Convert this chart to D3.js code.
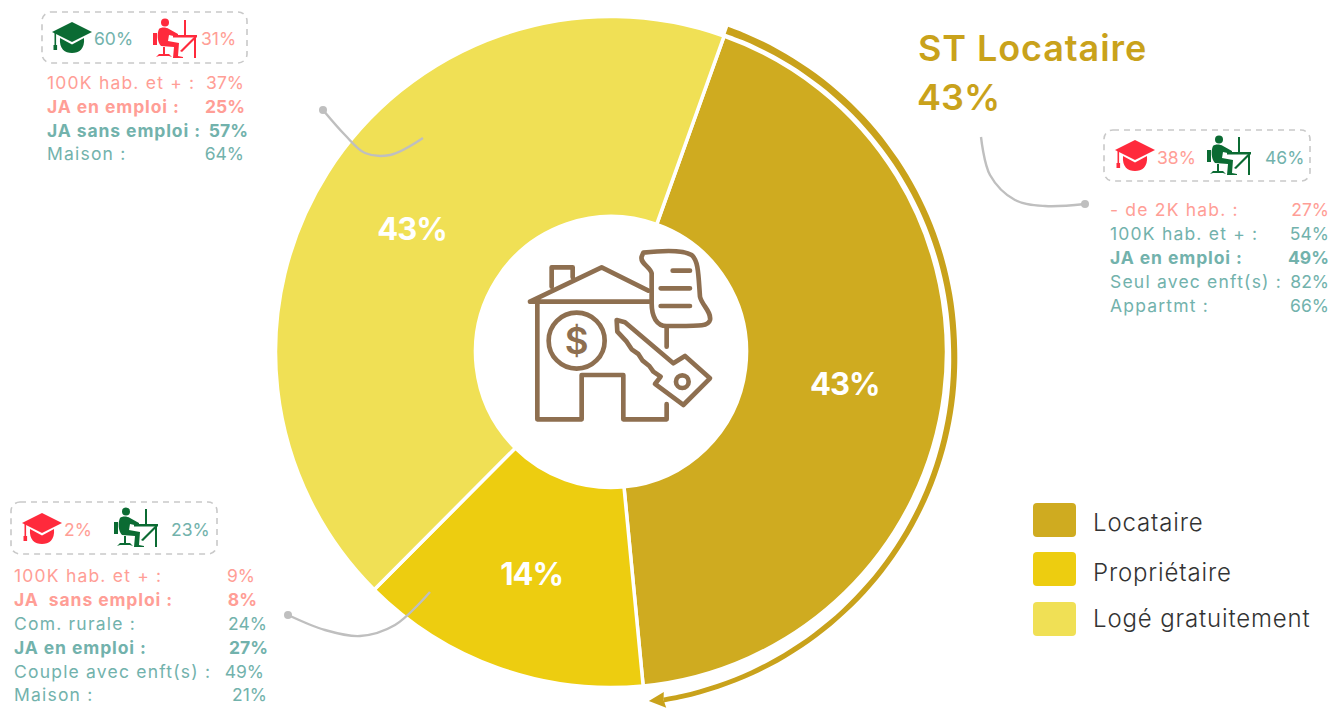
<!DOCTYPE html>
<html>
<head>
<meta charset="utf-8">
<script src="https://d3js.org/d3.v7.min.js"></script>
<style>
  html, body { margin: 0; background: #fff; }
  text { font-family: Inter, "Open Sans", sans-serif; }
</style>
</head>
<body>
<svg id="chart" width="1334" height="709"></svg>
<script>
// donut data
var categories = ["Locataire", "Propriétaire", "Logé gratuitement"];
var shares = [43, 14, 43];
var colors = ["#CFAB20", "#EDCD10", "#F0E055"];

// side notes, one set of arrays per slice
var locLabels = ["- de 2K hab. :", "100K hab. et + :", "JA en emploi :", "Seul avec enft(s) :", "Appartmt :"];
var locValues = [27, 54, 49, 82, 66];
var locTone = ["pink", "teal", "teal", "teal", "teal"];
var locBold = [0, 0, 1, 0, 0];
var locBadge = [38, 46];

var logLabels = ["100K hab. et + :", "JA en emploi :", "JA sans emploi :", "Maison :"];
var logValues = [37, 25, 57, 64];
var logTone = ["pink", "pink", "teal", "teal"];
var logBold = [0, 1, 1, 0];
var logBadge = [60, 31];

var propLabels = ["100K hab. et + :", "JA  sans emploi :", "Com. rurale :", "JA en emploi :", "Couple avec enft(s) :", "Maison :"];
var propValues = [9, 8, 24, 27, 49, 21];
var propTone = ["pink", "pink", "teal", "teal", "teal", "teal"];
var propBold = [0, 1, 0, 1, 0, 0];
var propBadge = [2, 23];

var TONES = { pink: "#FF9E96", teal: "#72B2AC" };
var RED = "#FF2A3C", GREEN = "#0B6B33", GOLD = "#C9A21B", GREY = "#BFBFBF";

var cx = 611, cy = 352, R = 335.5, HOLE = 135.5;
var START = 19.7 * Math.PI / 180;

var svg = d3.select("#chart");

var pie = d3.pie().sort(null).startAngle(START).endAngle(START + 2 * Math.PI);
var arc = d3.arc().innerRadius(HOLE).outerRadius(R);
var slices = pie(shares);

var donut = svg.append("g").attr("transform", "translate(" + cx + "," + cy + ")");

donut.selectAll("path").data(slices).enter().append("path")
  .attr("d", arc)
  .attr("fill", function(d, i){ return colors[i] })
  .attr("stroke", "#fff")
  .attr("stroke-width", 3.5);

// the 14% sits a little above its centroid
var sliceLabelShift = [0, -3, 0];
donut.selectAll("text").data(slices).enter().append("text")
  .attr("transform", function(d, i){
    var c = arc.centroid(d);
    return "translate(" + c[0] + "," + (c[1] + sliceLabelShift[i]) + ")";
  })
  .attr("text-anchor", "middle")
  .attr("dy", "0.45em")
  .attr("fill", "#fff")
  .attr("font-size", 31)
  .attr("font-weight", 700)
  .attr("letter-spacing", -1)
  .text(function(d){ return d.data + "%" });

// arrow around the first slice: it drifts away from the donut toward the bottom
var arrowAngle = d3.scaleLinear().domain([0, 1]).range([slices[0].startAngle + 0.002, slices[0].endAngle - 0.054]);
var arrowRadius = d3.scaleLinear().domain([0, 0.45, 1]).range([342, 343, 352]);
var arrowWidth = d3.scaleLinear().domain([0, 1]).range([3.6, 2.4]);

var band = d3.areaRadial()
  .angle(function(t){ return arrowAngle(t) })
  .innerRadius(function(t){ return arrowRadius(t) - arrowWidth(t) })
  .outerRadius(function(t){ return arrowRadius(t) + arrowWidth(t) })
  .curve(d3.curveCatmullRom);

donut.append("path")
  .attr("d", band(d3.range(0, 1.0001, 0.02)))
  .attr("fill", GOLD);

function polar(angle, radius){
  return [radius * Math.sin(angle), -radius * Math.cos(angle)];
}
var headEnd = arrowAngle(1);
donut.append("polygon")
  .attr("fill", GOLD)
  .attr("points", [
    polar(headEnd + 0.042, 351),
    polar(headEnd - 0.004, 360),
    polar(headEnd, 352),
    polar(headEnd - 0.004, 344)
  ].join(" "));

// house icon, drawn in a 3x box
var house = svg.append("g")
  .attr("transform", "translate(510,230) scale(0.3333)")
  .attr("fill", "none")
  .attr("stroke", "#8E6F50")
  .attr("stroke-width", 14)
  .attr("stroke-linejoin", "round")
  .attr("stroke-linecap", "round");

house.append("path").attr("d", "M60,215 L275,112 L415,182 M60,215 L418,215 M125,170 L125,112 L188,112 L188,142");
house.append("path").attr("d", "M82,220 L82,568 L215,568 L215,435 L340,435 L340,568 L470,568 L470,522 M470,292 L470,350");
house.append("circle").attr("cx", 200).attr("cy", 332).attr("r", 84);
house.append("path").attr("d", "M400,68 C470,60 520,60 545,75 C565,92 565,130 570,200 C575,225 605,245 600,270 C595,290 570,288 470,288 C440,288 425,260 425,220 L425,130 C420,110 390,100 395,80 Z");
house.append("path").attr("d", "M488,122 L540,122 M452,175 L540,175 M452,228 L540,228");
house.append("path").attr("d", "M320,270 L345,277 L490,400 L525,378 L600,445 L520,525 L435,462 L452,440 L430,425 L418,408 L398,392 L385,372 L365,358 L350,335 L322,305 Z");
house.append("circle").attr("cx", 517).attr("cy", 455).attr("r", 19);
house.append("text")
  .attr("x", 200).attr("y", 332)
  .attr("dy", "0.36em")
  .attr("text-anchor", "middle")
  .attr("fill", "#8E6F50").attr("stroke", "none")
  .attr("font-size", 110).attr("font-weight", 600)
  .text("$");

// title
var title = svg.append("g").attr("fill", GOLD).attr("font-weight", 600);
title.append("text").attr("x", 918).attr("y", 61).attr("font-size", 36).attr("letter-spacing", 0.9).text("ST Locataire");
title.append("text").attr("x", 917).attr("y", 110).attr("font-size", 36).text(shares[0] + "%");

// legend
var legendRow = d3.scaleOrdinal().domain(categories).range([503, 552, 602]);
var legendTextY = [19, 20, 16];
var legend = svg.selectAll(".legend").data(categories).enter().append("g")
  .attr("class", "legend")
  .attr("transform", function(d){ return "translate(1033," + legendRow(d) + ")" });

legend.append("rect")
  .attr("width", 43).attr("height", 34).attr("rx", 4)
  .attr("fill", function(d, i){ return colors[i] });

legend.append("text")
  .attr("x", 60).attr("y", function(d, i){ return legendTextY[i] })
  .attr("dy", "0.36em")
  .attr("font-size", 24)
  .attr("font-weight", 300)
  .attr("letter-spacing", 0.85)
  .attr("fill", "#333")
  .text(function(d){ return d });

function capIcon(g, x, y, color){
  var c = g.append("g").attr("transform", "translate(" + x + "," + y + ")").attr("fill", color);
  c.append("path").attr("d", "M20,0 L40,10 L20,20 L0,10 Z");
  c.append("path").attr("d", "M8,16 L20,22.5 L32,16 C33,27 27,31 20,31 C13,31 7,27 8,16 Z");
  c.append("rect").attr("x", 2.5).attr("y", 10).attr("width", 1.6).attr("height", 14);
  c.append("rect").attr("x", 1.5).attr("y", 23).attr("width", 3.6).attr("height", 5);
}

function deskIcon(g, x, y, color){
  var c = g.append("g").attr("transform", "translate(" + x + "," + y + ")").attr("fill", color);
  c.append("circle").attr("cx", 14).attr("cy", 4.5).attr("r", 4);
  c.append("path").attr("d", "M8,11 C10,9 15,9 18,11 L27,16 L27,19 L18,17 L17,23 L28,25 L27,38 L32,39 L32,40 L22,40 L23,29 L10,28 C6,24 6,15 8,11 Z");
  c.append("rect").attr("x", 2).attr("y", 15).attr("width", 4).attr("height", 12);
  c.append("rect").attr("x", 22).attr("y", 17).attr("width", 24).attr("height", 2.5);
  c.append("rect").attr("x", 33).attr("y", 2).attr("width", 2).attr("height", 15);
  c.append("rect").attr("x", 43).attr("y", 17).attr("width", 2).attr("height", 23);
  c.append("path").attr("d", "M43,19 L45,20 L31,34 L29,33 Z");
  c.append("rect").attr("x", 12).attr("y", 29).attr("width", 2).attr("height", 7);
  c.append("path").attr("d", "M5,39 L8,36 L18,36 L21,39 L18,38 L8,38 Z");
}

// badge box + the note lines under it
function note(cfg){
  var g = svg.append("g");

  g.append("rect")
    .attr("x", cfg.box[0]).attr("y", cfg.box[1])
    .attr("width", cfg.box[2]).attr("height", cfg.box[3])
    .attr("rx", 9)
    .attr("fill", "none")
    .attr("stroke", "#C9C9C9")
    .attr("stroke-width", 1.6)
    .attr("stroke-dasharray", "6 5");

  cfg.icons.forEach(function(ic){
    (ic.type == "cap" ? capIcon : deskIcon)(g, ic.x, ic.y, ic.color);
  });
  cfg.badge.forEach(function(v, i){
    g.append("text")
      .attr("x", cfg.badgeX[i]).attr("y", cfg.badgeY)
      .attr("dy", "0.36em")
      .attr("font-size", 17.5)
      .attr("font-weight", 400)
      .attr("fill", TONES[cfg.badgeTone[i]])
      .text(v + "%");
  });

  var row = d3.scalePoint().domain(d3.range(cfg.labels.length)).range(cfg.rows);
  cfg.labels.forEach(function(label, i){
    var line = g.append("g")
      .attr("fill", TONES[cfg.tone[i]])
      .attr("font-size", 17.5)
      .attr("font-weight", cfg.bold[i] ? 700 : 400);
    line.append("text")
      .attr("x", cfg.labelX).attr("y", row(i)).attr("dy", "0.36em")
      .attr("letter-spacing", cfg.bold[i] ? 0.9 : 1.2)
      .attr("xml:space", "preserve")
      .text(label);
    line.append("text")
      .attr("x", cfg.valueX[i]).attr("y", row(i)).attr("dy", "0.36em")
      .attr("text-anchor", "end")
      .text(cfg.values[i] + "%");
  });

  var lead = d3.line().curve(d3.curveCatmullRom)(cfg.lead);
  g.append("path").attr("d", lead).attr("fill", "none").attr("stroke", GREY).attr("stroke-width", 2.4);
  g.append("circle").attr("cx", cfg.dot[0]).attr("cy", cfg.dot[1]).attr("r", 4).attr("fill", GREY);
}

note({
  box: [42, 12, 205, 51],
  icons: [{ type: "cap", x: 52, y: 22, color: GREEN }, { type: "desk", x: 151, y: 18, color: RED }],
  badge: logBadge, badgeX: [94, 201], badgeY: 39, badgeTone: ["teal", "pink"],
  labels: logLabels, values: logValues, tone: logTone, bold: logBold,
  labelX: 47, valueX: [244, 245, 248, 244], rows: [83, 154],
  lead: [[323, 110], [345, 135], [365, 153], [390, 155], [423, 138]], dot: [323, 110]
});

note({
  box: [1104, 130, 206, 51],
  icons: [{ type: "cap", x: 1115, y: 140, color: RED }, { type: "desk", x: 1205, y: 135, color: GREEN }],
  badge: locBadge, badgeX: [1157, 1265], badgeY: 158, badgeTone: ["pink", "teal"],
  labels: locLabels, values: locValues, tone: locTone, bold: locBold,
  labelX: 1110, valueX: [1329, 1329, 1329, 1329, 1329], rows: [210, 306],
  lead: [[981, 137], [990, 175], [1015, 200], [1045, 206], [1085, 204]], dot: [1085, 204]
});

note({
  box: [11, 502, 206, 52],
  icons: [{ type: "cap", x: 22, y: 513, color: RED }, { type: "desk", x: 112, y: 507, color: GREEN }],
  badge: propBadge, badgeX: [64, 171], badgeY: 530, badgeTone: ["pink", "teal"],
  labels: propLabels, values: propValues, tone: propTone, bold: propBold,
  labelX: 14, valueX: [255, 257, 267, 268, 264, 267], rows: [576, 695],
  lead: [[288, 615], [325, 630], [360, 636], [395, 625], [430, 592]], dot: [288, 615]
});
</script>
</body>
</html>
